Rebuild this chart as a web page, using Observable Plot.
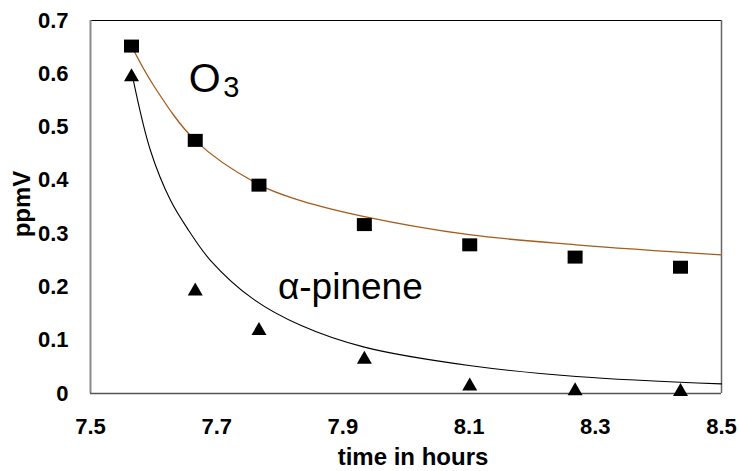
<!DOCTYPE html>
<html><head><meta charset="utf-8">
<script src="https://cdn.jsdelivr.net/npm/d3@7"></script>
<script src="https://cdn.jsdelivr.net/npm/@observablehq/plot@0.6"></script>
<style>body{margin:0;background:#fff} svg{display:block}</style>
</head><body><div id="chart"></div>
<script>
// measured points
const hours  = [7.565, 7.666, 7.767, 7.934, 8.101, 8.268, 8.435];
const ozone  = [0.652, 0.475, 0.391, 0.317, 0.279, 0.256, 0.237];
const pinene = [0.598, 0.196, 0.122, 0.068, 0.018, 0.009, 0.0075];
// fitted curves
const ozoneFitHours  = [7.565, 7.600, 7.666, 7.767, 7.833, 7.934, 8.100, 8.270, 8.500];
const ozoneFit       = [0.652, 0.578, 0.475, 0.392, 0.362, 0.332, 0.298, 0.279, 0.260];
const pineneFitHours = [7.568, 7.595, 7.627, 7.6556, 7.690, 7.757, 7.833, 7.934, 8.100, 8.270, 8.500];
const pineneFit      = [0.587, 0.456, 0.362, 0.306, 0.250, 0.178, 0.128, 0.087, 0.0525, 0.032, 0.018];
// axes
const xDomain = [7.5, 8.5];
const yDomain = [0, 0.7];
const xTicks = [7.5, 7.7, 7.9, 8.1, 8.3, 8.5];
const yTicks = [0, 0.1, 0.2, 0.3, 0.4, 0.5, 0.6, 0.7];
const xTitle = "time in hours";
const yTitle = "ppmV";
// annotations
const labelO     = [{text: "O", x: 7.6556, y: 0.5666}];
const labelSub   = [{text: "3", x: 7.7105, y: 0.557}];
const labelAlpha = [{text: "α-pinene", x: 7.797, y: 0.178}];

const ozoneData  = hours.map((h, i) => ({x: h, y: ozone[i]}));
const pineneData = hours.map((h, i) => ({x: h, y: pinene[i]}));
const ozoneFitData  = ozoneFitHours.map((h, i) => ({x: h, y: ozoneFit[i]}));
const pineneFitData = pineneFitHours.map((h, i) => ({x: h, y: pineneFit[i]}));

const rectSymbol = {draw(ctx) { ctx.rect(-7.5, -6.5, 15, 13); }};
const triSymbol  = {draw(ctx) { ctx.moveTo(0, -6.5); ctx.lineTo(7.5, 6.5); ctx.lineTo(-7.5, 6.5); ctx.closePath(); }};

const font = "'Liberation Sans', Arial, Helvetica, sans-serif";

const chart = Plot.plot({
  width: 739,
  height: 471,
  marginLeft: 90,
  marginRight: 18,
  marginTop: 20,
  marginBottom: 78,
  style: {fontFamily: font, fontSize: "22px", fontWeight: "bold", color: "#000", background: "#fff"},
  x: {domain: xDomain},
  y: {domain: yDomain},
  marks: [
    Plot.axisX({ticks: xTicks, tickSize: 0, tickPadding: 25, tickFormat: d => d.toFixed(1), label: null}),
    Plot.axisY({ticks: yTicks, tickSize: 0, tickPadding: 22, tickFormat: d => String(d), label: null}),
    Plot.ruleY([yDomain[1]], {stroke: "#000", strokeWidth: 1.2}),
    Plot.ruleX([xDomain[0]], {stroke: "#8a8a8a", strokeWidth: 2}),
    Plot.ruleY([yDomain[0]], {stroke: "#555", strokeWidth: 1.5}),
    Plot.ruleX([xDomain[1]], {stroke: "#666", strokeWidth: 1.5}),
    Plot.line(ozoneFitData, {x: "x", y: "y", stroke: "#a55c1b", strokeWidth: 1.3, curve: "catmull-rom"}),
    Plot.line(pineneFitData, {x: "x", y: "y", stroke: "#000", strokeWidth: 1.1, curve: "catmull-rom"}),
    Plot.dot(ozoneData, {x: "x", y: "y", symbol: rectSymbol, fill: "#000", stroke: null}),
    Plot.dot(pineneData, {x: "x", y: "y", symbol: triSymbol, fill: "#000", stroke: null}),
    Plot.text(labelO, {x: "x", y: "y", text: "text", textAnchor: "start", lineAnchor: "bottom", fontSize: 41, fontWeight: "normal"}),
    Plot.text(labelSub, {x: "x", y: "y", text: "text", textAnchor: "start", lineAnchor: "bottom", fontSize: 29, fontWeight: "normal"}),
    Plot.text(labelAlpha, {x: "x", y: "y", text: "text", textAnchor: "start", lineAnchor: "bottom", fontSize: 37, fontWeight: "normal"}),
    Plot.text([xTitle], {text: d => d, frameAnchor: "bottom", textAnchor: "middle", dx: 7, dy: 71, lineAnchor: "bottom", fontSize: 24, fontWeight: "bold"}),
    Plot.text([yTitle], {text: d => d, frameAnchor: "left", textAnchor: "middle", lineAnchor: "middle", rotate: -90, dx: -68, dy: -3, fontSize: 24, fontWeight: "bold"})
  ]
});
document.getElementById("chart").appendChild(chart);
</script>
</body></html>
